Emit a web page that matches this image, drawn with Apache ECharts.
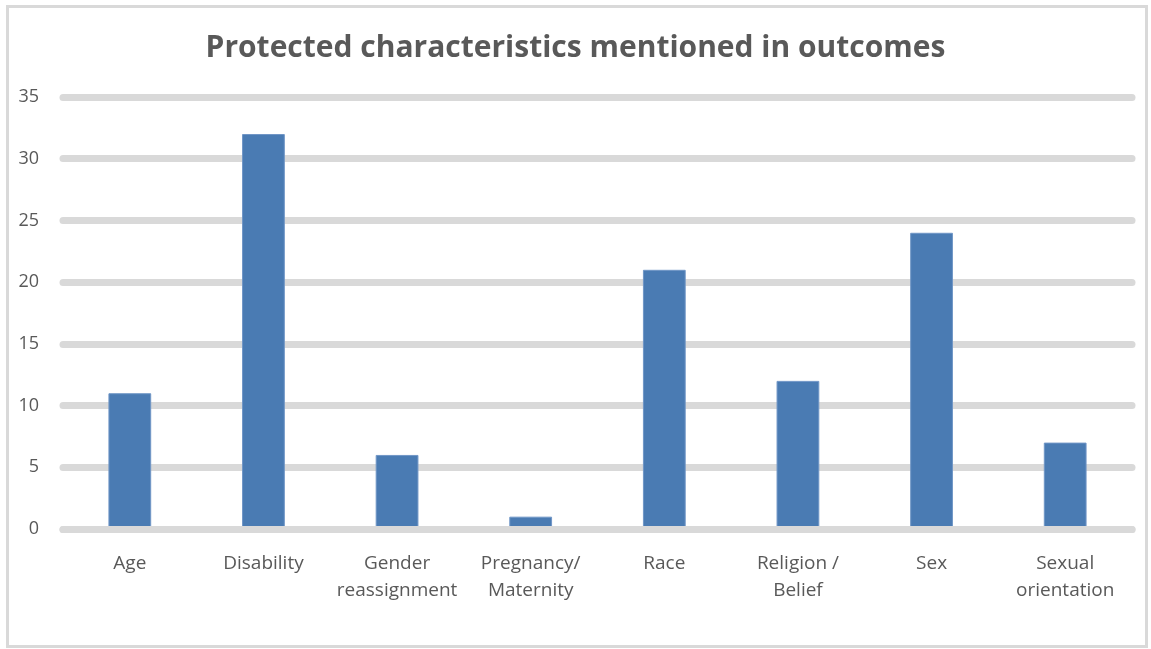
<!DOCTYPE html>
<html>
<head>
<meta charset="utf-8">
<script src="https://cdn.jsdelivr.net/npm/echarts@6/dist/echarts.min.js"></script>
<style>
  html, body { margin: 0; padding: 0; background: #fff; }
  #chart { width: 1151px; height: 649px; }
</style>
</head>
<body>
<div id="chart"></div>
<script>
// data
const categories = [
  "Age", "Disability", "Gender\nreassignment", "Pregnancy/\nMaternity",
  "Race", "Religion /\nBelief", "Sex", "Sexual\norientation"
];
const counts = [11, 32, 6, 1, 21, 12, 24, 7];
const yTicks = { min: 0, max: 35, interval: 5 };

const myChart = echarts.init(document.getElementById("chart"));
const option = {
  backgroundColor: "#fff",
  animation: false,
  graphic: [
    {
      type: "rect",
      shape: { x: 7.5, y: 6.5, width: 1139, height: 640 },
      style: { fill: "none", stroke: "#d9d9d9", lineWidth: 3 },
      silent: true,
    },
  ],
  title: {
    text: "Protected characteristics mentioned in outcomes",
    left: "center",
    top: 28,
    textStyle: {
      color: "#595959",
      fontSize: 30,
      fontWeight: "bold",
      fontFamily: "Open Sans",
    },
  },
  grid: {
    left: 63,
    right: 19,
    top: 97,
    bottom: 120,
    containLabel: false,
  },
  xAxis: {
    type: "category",
    data: categories,
    z: 3,
    axisLine: {
      show: true,
      lineStyle: { color: "#d9d9d9", width: 7, cap: "round" },
    },
    axisTick: { show: false },
    axisLabel: {
      color: "#595959",
      fontSize: 19,
      fontFamily: "Open Sans",
      lineHeight: 27,
      margin: 21,
      interval: 0,
    },
  },
  yAxis: {
    type: "value",
    min: yTicks.min,
    max: yTicks.max,
    interval: yTicks.interval,
    axisLine: { show: false },
    axisTick: { show: false },
    axisLabel: {
      color: "#595959",
      fontSize: 18,
      fontFamily: "Open Sans",
      margin: 24,
    },
    splitLine: {
      show: true,
      lineStyle: { color: "#d9d9d9", width: 7, cap: "round" },
    },
  },
  series: [
    {
      type: "bar",
      data: counts,
      barWidth: "32%",
      itemStyle: {
        color: "#4a7bb3",
        borderColor: "#7096c6",
        borderWidth: 1,
      },
    },
  ],
};
myChart.setOption(option);
</script>
</body>
</html>
